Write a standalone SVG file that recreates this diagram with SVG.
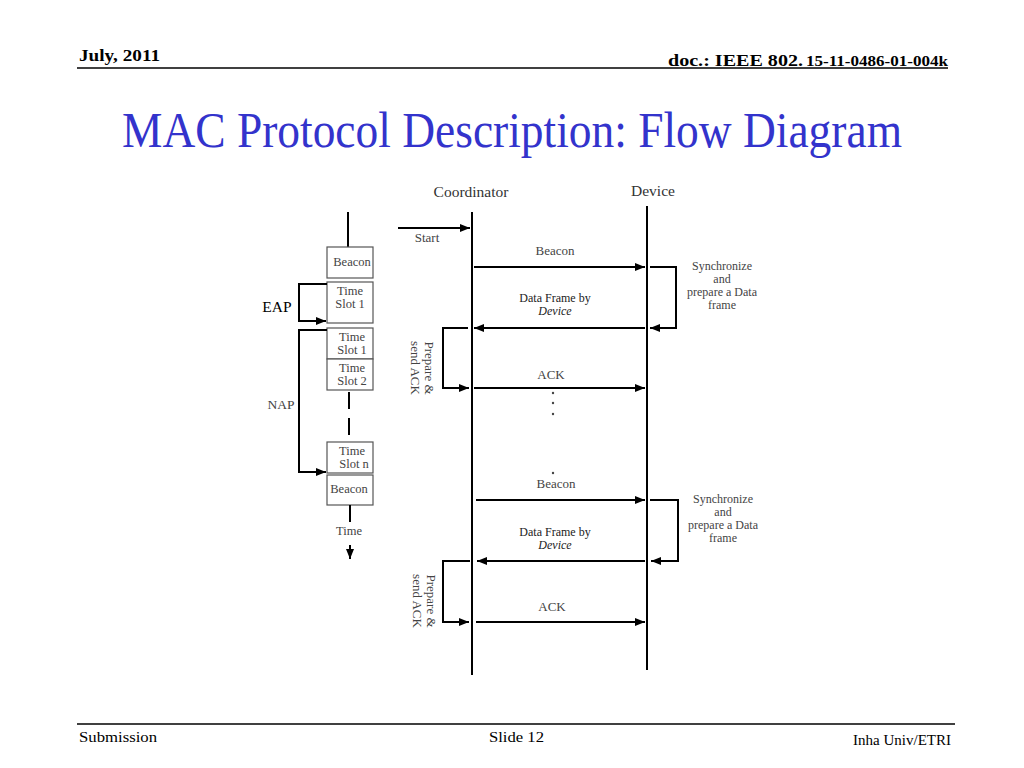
<svg xmlns="http://www.w3.org/2000/svg" width="1024" height="768" viewBox="0 0 1024 768">
<defs>
<marker id="ah" markerWidth="10" markerHeight="10" refX="10" refY="5" orient="auto" markerUnits="userSpaceOnUse" viewBox="0 0 10 10">
<path d="M0,1 L10,5 L0,9 Z" fill="#000"/>
</marker>
</defs>
<style>
.hdr{font-family:"Liberation Serif","Times New Roman",serif;font-weight:bold;fill:#000}
.ftr{font-family:"Liberation Serif","Times New Roman",serif;fill:#000;font-size:15px}
.ttl{font-family:"Liberation Serif","Times New Roman",serif;fill:#3333cc;font-size:50px}
.t{font-family:"Liberation Serif","DejaVu Serif",serif;fill:#444;font-size:13px;text-anchor:middle}
.b{font-size:12.5px}
.d{font-size:12px;fill:#222}
.s{font-size:12px}
.tl{font-family:"Liberation Serif","DejaVu Serif",serif;fill:#333;font-size:15.5px;text-anchor:middle}
.ln{stroke:#000;stroke-width:2;fill:none}
.ar{stroke:#000;stroke-width:2;fill:none;marker-end:url(#ah)}
.bx{fill:#fff;stroke:#555;stroke-width:1.2}
.dot{fill:#444}
</style>
<rect width="1024" height="768" fill="#fff"/>

<g id="header">
<text class="hdr" x="79" y="61" font-size="16" textLength="81" lengthAdjust="spacingAndGlyphs">July, 2011</text>
<text class="hdr" x="668" y="66" font-size="17" textLength="135" lengthAdjust="spacingAndGlyphs">doc.: IEEE 802.</text>
<text class="hdr" x="806" y="66" font-size="14" textLength="142" lengthAdjust="spacingAndGlyphs">15-11-0486-01-004k</text>
<line x1="77" y1="68" x2="948" y2="68" stroke="#000" stroke-width="1.5"/>
</g>

<g id="title">
<text class="ttl" x="122" y="147" textLength="780" lengthAdjust="spacingAndGlyphs">MAC Protocol Description: Flow Diagram</text>
</g>

<g id="footer">
<line x1="77" y1="724" x2="955" y2="724" stroke="#000" stroke-width="1.5"/>
<text class="ftr" x="79" y="742" textLength="78" lengthAdjust="spacingAndGlyphs">Submission</text>
<text class="ftr" x="489" y="742" textLength="55" lengthAdjust="spacingAndGlyphs">Slide 12</text>
<text class="ftr" x="853" y="745" textLength="98" lengthAdjust="spacingAndGlyphs">Inha Univ/ETRI</text>
</g>

<g id="lifelines">
<text class="tl" x="471" y="197">Coordinator</text>
<text class="tl" x="653" y="196">Device</text>
<line class="ln" x1="472" y1="212" x2="472" y2="675"/>
<line class="ln" x1="647" y1="206" x2="647" y2="670"/>
</g>

<g id="timeline">
<line class="ln" x1="348" y1="212" x2="348" y2="247"/>
<g id="tl-beacon1"><rect class="bx" x="327" y="247" width="46" height="31"/><text class="t b" x="352" y="266">Beacon</text></g>
<g id="tl-eap-slot1"><rect class="bx" x="327" y="282" width="46" height="41"/><text class="t b" x="350" y="295">Time</text><text class="t b" x="350" y="308">Slot 1</text></g>
<g id="tl-nap-slot1"><rect class="bx" x="327" y="328" width="46" height="31"/><text class="t b" x="352" y="341">Time</text><text class="t b" x="352" y="354">Slot 1</text></g>
<g id="tl-nap-slot2"><rect class="bx" x="327" y="359" width="46" height="31"/><text class="t b" x="352" y="372">Time</text><text class="t b" x="352" y="385">Slot 2</text></g>
<line class="ln" x1="349" y1="392" x2="349" y2="409"/>
<line class="ln" x1="349" y1="418" x2="349" y2="435"/>
<g id="tl-slotn"><rect class="bx" x="327" y="442" width="46" height="31"/><text class="t b" x="352" y="455">Time</text><text class="t b" x="354" y="468">Slot n</text></g>
<g id="tl-beacon2"><rect class="bx" x="327" y="475" width="46" height="30"/><text class="t b" x="349" y="493">Beacon</text></g>
<line class="ln" x1="350" y1="505" x2="350" y2="522"/>
<text class="t b" x="349" y="535">Time</text>
<line class="ar" x1="350" y1="545" x2="350" y2="559"/>
<g id="eap">
<path class="ar" d="M327,284 H299 V321 H326"/>
<text x="277" y="312" font-family="Liberation Serif,serif" font-size="15.5" fill="#000" text-anchor="middle">EAP</text>
</g>
<g id="nap">
<path class="ar" d="M327,330 H299 V472 H326"/>
<text x="281" y="409" font-family="Liberation Serif,serif" font-size="13.5" fill="#444" text-anchor="middle">NAP</text>
</g>
</g>

<g id="connectors">
<line class="ar" x1="398" y1="228" x2="470" y2="228"/>
<text class="t" x="427" y="242">Start</text>

<line class="ar" x1="474" y1="267" x2="645" y2="267"/>
<text class="t" x="555" y="255">Beacon</text>
<path class="ar" d="M650,267 H676 V328 H650"/>
<text class="t s" x="722" y="270">Synchronize</text>
<text class="t s" x="722" y="283">and</text>
<text class="t s" x="722" y="296">prepare a Data</text>
<text class="t s" x="722" y="309">frame</text>

<line class="ar" x1="645" y1="328" x2="474" y2="328"/>
<text class="t d" x="555" y="302">Data Frame by</text>
<text class="t d" x="555" y="315" font-style="italic">Device</text>
<path class="ar" d="M468,328 H443 V388 H469"/>
<text class="t" transform="translate(425,368) rotate(90)">Prepare &amp;</text>
<text class="t" transform="translate(411,368) rotate(90)">send ACK</text>

<line class="ar" x1="474" y1="388" x2="645" y2="388"/>
<text class="t" x="551" y="379">ACK</text>
<circle class="dot" cx="553" cy="393" r="1.2"/>
<circle class="dot" cx="553" cy="403" r="1.2"/>
<circle class="dot" cx="553" cy="414" r="1.2"/>
<circle class="dot" cx="553" cy="473" r="1.2"/>

<line class="ar" x1="476" y1="500" x2="645" y2="500"/>
<text class="t" x="556" y="488">Beacon</text>
<path class="ar" d="M650,500 H678 V561 H651"/>
<text class="t s" x="723" y="503">Synchronize</text>
<text class="t s" x="723" y="516">and</text>
<text class="t s" x="723" y="529">prepare a Data</text>
<text class="t s" x="723" y="542">frame</text>

<line class="ar" x1="645" y1="561" x2="477" y2="561"/>
<text class="t d" x="555" y="536">Data Frame by</text>
<text class="t d" x="555" y="549" font-style="italic">Device</text>
<path class="ar" d="M470,561 H443 V622 H469"/>
<text class="t" transform="translate(427,601) rotate(90)">Prepare &amp;</text>
<text class="t" transform="translate(413,601) rotate(90)">send ACK</text>

<line class="ar" x1="476" y1="622" x2="645" y2="622"/>
<text class="t" x="552" y="611">ACK</text>
</g>
</svg>
